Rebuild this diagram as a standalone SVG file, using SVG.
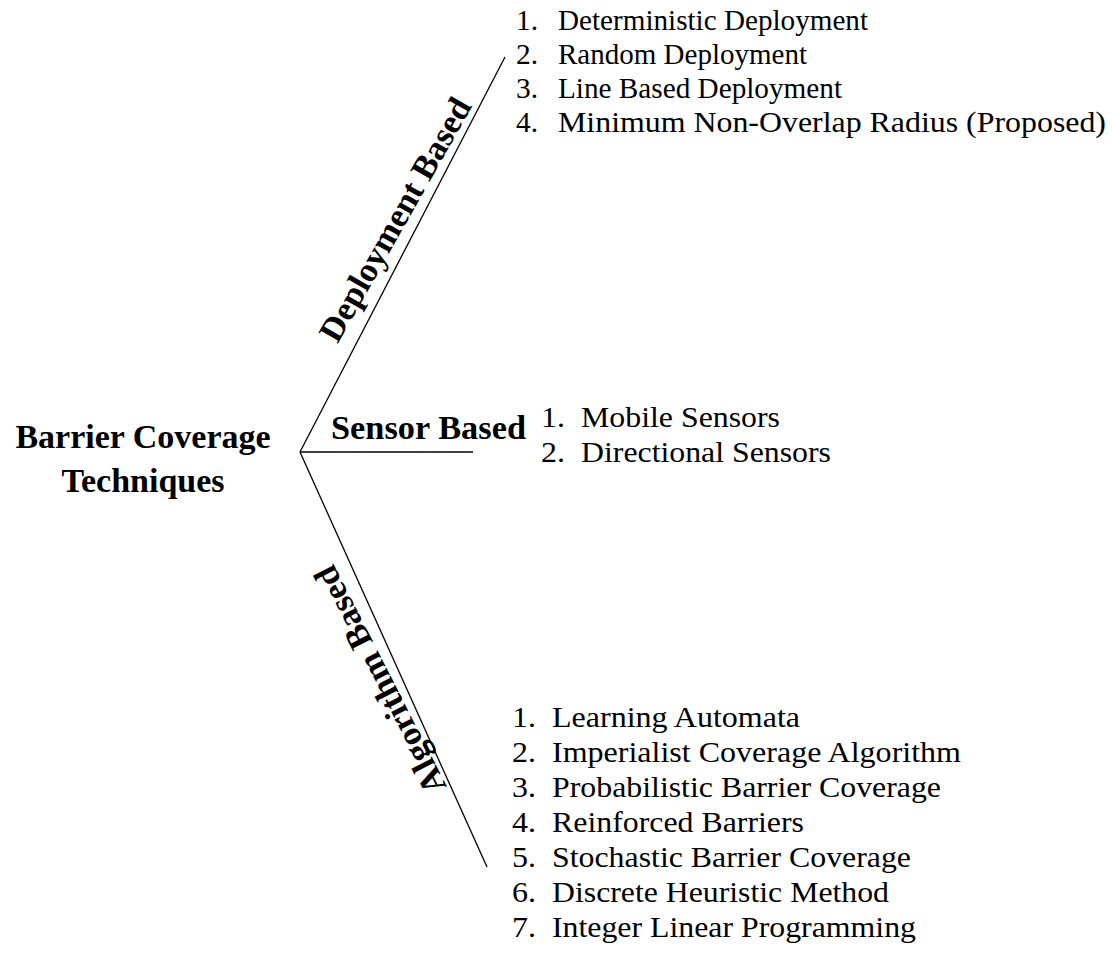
<svg xmlns="http://www.w3.org/2000/svg" width="1112" height="958" viewBox="0 0 1112 958">
<style>
.b{font-family:"Liberation Serif","Times New Roman",serif;font-weight:bold;font-size:34px;fill:#000}
.r{font-family:"Liberation Serif","Times New Roman",serif;font-size:29px;fill:#000}
.ln{stroke:#000;stroke-width:1.3;fill:none}
</style>
<rect width="1112" height="958" fill="#fff"/>
<g id="connectors">
<line class="ln" x1="300" y1="452" x2="505" y2="57"/>
<line class="ln" x1="300" y1="452" x2="473" y2="452"/>
<line class="ln" x1="300" y1="452" x2="487" y2="867"/>
</g>
<g id="root">
<text class="b" x="143" y="448" text-anchor="middle">Barrier Coverage</text>
<text class="b" x="143" y="492" text-anchor="middle">Techniques</text>
</g>
<g id="deployment">
<text class="b" transform="translate(405,225) rotate(-60.5)" text-anchor="middle" textLength="274" lengthAdjust="spacingAndGlyphs">Deployment Based</text>
<g class="r">
<text x="516" y="30" textLength="22" lengthAdjust="spacingAndGlyphs">1.</text><text x="558" y="30" textLength="310" lengthAdjust="spacingAndGlyphs">Deterministic Deployment</text>
<text x="516" y="64" textLength="22" lengthAdjust="spacingAndGlyphs">2.</text><text x="558" y="64" textLength="249" lengthAdjust="spacingAndGlyphs">Random Deployment</text>
<text x="516" y="98" textLength="22" lengthAdjust="spacingAndGlyphs">3.</text><text x="558" y="98" textLength="284" lengthAdjust="spacingAndGlyphs">Line Based Deployment</text>
<text x="516" y="132" textLength="22" lengthAdjust="spacingAndGlyphs">4.</text><text x="558" y="132" textLength="548" lengthAdjust="spacingAndGlyphs">Minimum Non-Overlap Radius (Proposed)</text>
</g>
</g>
<g id="sensor">
<text class="b" x="331" y="439" textLength="195" lengthAdjust="spacingAndGlyphs">Sensor Based</text>
<g class="r">
<text x="541" y="427" textLength="24" lengthAdjust="spacingAndGlyphs">1.</text><text x="581" y="427" textLength="199" lengthAdjust="spacingAndGlyphs">Mobile Sensors</text>
<text x="541" y="462" textLength="24" lengthAdjust="spacingAndGlyphs">2.</text><text x="581" y="462" textLength="250" lengthAdjust="spacingAndGlyphs">Directional Sensors</text>
</g>
</g>
<g id="algorithm">
<text class="b" transform="translate(390,675) rotate(-117)" text-anchor="middle" textLength="251" lengthAdjust="spacingAndGlyphs">Algorithm Based</text>
<g class="r">
<text x="512" y="727" textLength="24" lengthAdjust="spacingAndGlyphs">1.</text><text x="552" y="727" textLength="248" lengthAdjust="spacingAndGlyphs">Learning Automata</text>
<text x="512" y="762" textLength="24" lengthAdjust="spacingAndGlyphs">2.</text><text x="552" y="762" textLength="409" lengthAdjust="spacingAndGlyphs">Imperialist Coverage Algorithm</text>
<text x="512" y="797" textLength="24" lengthAdjust="spacingAndGlyphs">3.</text><text x="552" y="797" textLength="389" lengthAdjust="spacingAndGlyphs">Probabilistic Barrier Coverage</text>
<text x="512" y="832" textLength="24" lengthAdjust="spacingAndGlyphs">4.</text><text x="552" y="832" textLength="252" lengthAdjust="spacingAndGlyphs">Reinforced Barriers</text>
<text x="512" y="867" textLength="24" lengthAdjust="spacingAndGlyphs">5.</text><text x="552" y="867" textLength="359" lengthAdjust="spacingAndGlyphs">Stochastic Barrier Coverage</text>
<text x="512" y="902" textLength="24" lengthAdjust="spacingAndGlyphs">6.</text><text x="552" y="902" textLength="337" lengthAdjust="spacingAndGlyphs">Discrete Heuristic Method</text>
<text x="512" y="937" textLength="24" lengthAdjust="spacingAndGlyphs">7.</text><text x="552" y="937" textLength="364" lengthAdjust="spacingAndGlyphs">Integer Linear Programming</text>
</g>
</g>
</svg>
